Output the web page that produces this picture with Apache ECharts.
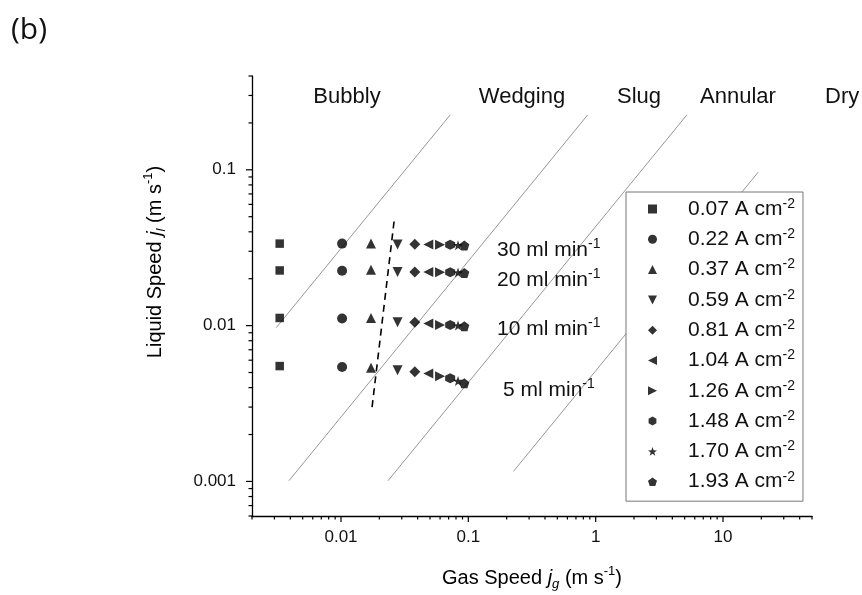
<!DOCTYPE html>
<html>
<head>
<meta charset="utf-8">
<script src="https://cdn.jsdelivr.net/npm/echarts@6/dist/echarts.min.js"></script>
<style>
html,body{margin:0;padding:0;background:#fff;}
#c{width:862px;height:595px;}
</style>
</head>
<body>
<div id="c"></div>
<script>
// ---------- data ----------
const currents = ['0.07', '0.22', '0.37', '0.59', '0.81', '1.04', '1.26', '1.48', '1.70', '1.93'];
const jg = [0.0033, 0.0102, 0.0172, 0.0278, 0.038, 0.0485, 0.060, 0.072, 0.083, 0.093];
const jl30 = [0.0336, 0.0336, 0.0337, 0.0332, 0.0333, 0.0332, 0.0331, 0.0330, 0.0328, 0.0327];
const jl20 = [0.0226, 0.0225, 0.0228, 0.0221, 0.0221, 0.0221, 0.0220, 0.0220, 0.0219, 0.0218];
const jl10 = [0.0112, 0.0111, 0.0112, 0.0105, 0.0105, 0.0103, 0.0101, 0.0101, 0.0100, 0.0099];
const jl5  = [0.00550, 0.00542, 0.00537, 0.00518, 0.00505, 0.00492, 0.00474, 0.00459, 0.00441, 0.00426];
// regime boundary lines (gray), endpoints [jg, jl]
const boundary1 = [[0.0031, 0.0097], [0.072, 0.225]];
const boundary2 = [[0.0039, 0.00101], [0.865, 0.225]];
const boundary3 = [[0.0234, 0.00101], [5.2, 0.225]];
const boundary4 = [[0.226, 0.00116], [18.9, 0.0966]];
// dashed transition line
const dashedLine = [[0.01754, 0.0030], [0.0261, 0.0466]];
// axis ranges & ticks
const xMin = 0.002, xMax = 50, yMin = 0.0006, yMax = 0.4;
const xMajor = [0.01, 0.1, 1, 10];
const xMinor = [0.002, 0.003, 0.004, 0.005, 0.006, 0.007, 0.008, 0.009,
  0.02, 0.03, 0.04, 0.05, 0.06, 0.07, 0.08, 0.09,
  0.2, 0.3, 0.4, 0.5, 0.6, 0.7, 0.8, 0.9,
  2, 3, 4, 5, 6, 7, 8, 9, 20, 30, 40, 50];
const yMajor = [0.001, 0.01, 0.1];
const yMinor = [0.0006, 0.0007, 0.0008, 0.0009,
  0.002, 0.003, 0.004, 0.005, 0.006, 0.007, 0.008, 0.009,
  0.02, 0.03, 0.04, 0.05, 0.06, 0.07, 0.08, 0.09,
  0.2, 0.3, 0.4];

const FONT = 'Liberation Sans';
const downTri = 'path://M0,10 L-10,-10 L10,-10 Z';
const leftTri = 'path://M-10,0 L10,-10 L10,10 Z';
const rightTri = 'path://M10,0 L-10,-10 L-10,10 Z';
const hexPath = 'path://M0,-10 L8.66,-5 L8.66,5 L0,10 L-8.66,5 L-8.66,-5 Z';
const starPath = 'path://M0,-10 L2.35,-3.24 L9.51,-3.09 L3.80,1.24 L5.88,8.09 L0,4 L-5.88,8.09 L-3.80,1.24 L-9.51,-3.09 L-2.35,-3.24 Z';
const pentPath = 'path://M0,-10 L9.51,-3.09 L5.88,8.09 L-5.88,8.09 L-9.51,-3.09 Z';
const symbols = [
  {s: 'rect', size: 8.5},
  {s: 'circle', size: 10},
  {s: 'triangle', size: 10},
  {s: downTri, size: 10},
  {s: 'diamond', size: 11},
  {s: leftTri, size: 10},
  {s: rightTri, size: 10},
  {s: hexPath, size: 10},
  {s: starPath, size: 10},
  {s: pentPath, size: 10}
];

const series = [];
const gray = {color: '#8a8a8a', width: 0.9};
[boundary1, boundary2, boundary3, boundary4].forEach(function (b) {
  series.push({type: 'line', data: b, symbol: 'none', lineStyle: gray, silent: true, z: 1});
});
series.push({type: 'line', data: dashedLine, symbol: 'none', silent: true, z: 1,
  lineStyle: {color: '#000', width: 1.6, type: [7, 5]}});

currents.forEach(function (c, i) {
  series.push({
    type: 'scatter', name: c,
    symbol: symbols[i].s, symbolSize: symbols[i].size,
    itemStyle: {color: '#000'},
    data: [[jg[i], jl30[i]], [jg[i], jl20[i]], [jg[i], jl10[i]], [jg[i], jl5[i]]],
    z: 3
  });
});

// tick marks drawn through the axes' own scales
const xTickData = xMajor.map(v => [v, yMin, 1]).concat(xMinor.map(v => [v, yMin, 0]));
const yTickData = yMajor.map(v => [xMin, v, 1]).concat(yMinor.map(v => [xMin, v, 0]));
series.push({
  type: 'custom', silent: true, clip: false, data: xTickData, z: 5,
  renderItem: function (params, api) {
    const p = api.coord([api.value(0), api.value(1)]);
    const len = api.value(2) ? 6 : 3.5;
    return {type: 'line', shape: {x1: p[0], y1: p[1], x2: p[0], y2: p[1] + len},
      style: {stroke: '#000', lineWidth: 1.2}};
  }
});
series.push({
  type: 'custom', silent: true, clip: false, data: yTickData, z: 5,
  renderItem: function (params, api) {
    const p = api.coord([api.value(0), api.value(1)]);
    const len = api.value(2) ? 6 : 3.5;
    return {type: 'line', shape: {x1: p[0], y1: p[1], x2: p[0] - len, y2: p[1]},
      style: {stroke: '#000', lineWidth: 1.2}};
  }
});

function isPow10(v) {
  const l = Math.log10(v);
  return Math.abs(l - Math.round(l)) < 1e-6;
}

const chart = echarts.init(document.getElementById('c'), null, {renderer: 'canvas'});
const supRich = {
  n: {fontFamily: FONT, fontSize: 21, color: '#111', lineHeight: 24},
  s: {fontFamily: FONT, fontSize: 14, color: '#111', lineHeight: 14, verticalAlign: 'top'}
};
const titleRich = {
  n: {fontFamily: FONT, fontSize: 20, color: '#111', lineHeight: 26},
  i: {fontFamily: FONT, fontSize: 20, color: '#111', lineHeight: 26, fontStyle: 'italic'},
  b: {fontFamily: FONT, fontSize: 13, color: '#111', lineHeight: 14, fontStyle: 'italic', verticalAlign: 'bottom'},
  s: {fontFamily: FONT, fontSize: 13, color: '#111', lineHeight: 14, verticalAlign: 'top'}
};
const annRich = {
  n: {fontFamily: FONT, fontSize: 21, color: '#111', lineHeight: 26},
  s: {fontFamily: FONT, fontSize: 14, color: '#111', lineHeight: 15, verticalAlign: 'top'}
};

function txt(x, y, text, align, size) {
  return {type: 'text', x: x, y: y, silent: true, z: 10,
    style: {text: text, align: align || 'center', verticalAlign: 'middle',
      fontFamily: FONT, fontSize: size || 22, fill: '#111'}};
}
function richTxt(x, y, text, rich) {
  return {type: 'text', x: x, y: y, silent: true, z: 10,
    style: {text: text, align: 'left', verticalAlign: 'middle', rich: rich, fill: '#111'}};
}

const option = {
  animation: false,
  backgroundColor: '#fff',
  grid: {left: 252, top: 76, right: 50, bottom: 79, containLabel: false},
  xAxis: {
    type: 'log', logBase: 10, min: xMin, max: xMax,
    axisLine: {lineStyle: {color: '#000', width: 1.3}},
    axisTick: {show: false},
    splitLine: {show: false},
    axisLabel: {fontFamily: FONT, fontSize: 17, color: '#111', margin: 13,
      showMinLabel: false, showMaxLabel: false,
      formatter: function (v) { return isPow10(v) ? String(+v.toPrecision(6)) : ''; }}
  },
  yAxis: {
    type: 'log', logBase: 10, min: yMin, max: yMax,
    axisLine: {lineStyle: {color: '#000', width: 1.3}},
    axisTick: {show: false},
    splitLine: {show: false},
    axisLabel: {fontFamily: FONT, fontSize: 17, color: '#111', margin: 16,
      showMinLabel: false, showMaxLabel: false,
      formatter: function (v) { return isPow10(v) ? String(+v.toPrecision(6)) : ''; }}
  },
  legend: {
    orient: 'vertical', left: 626, top: 192,
    data: currents,
    itemWidth: 9, itemHeight: 9, itemGap: 7.8,
    padding: [5, 8, 9, 22],
    backgroundColor: '#fff', borderColor: '#777', borderWidth: 1, borderRadius: 0,
    selectedMode: false,
    formatter: function (name) { return '{n|' + name + ' A cm}{s|-2}'; },
    textStyle: {fontFamily: FONT, fontSize: 21, color: '#111', padding: [0, 0, 0, 26], rich: supRich}
  },
  series: series,
  graphic: [
    {type: 'text', x: 11, y: 30, silent: true,
      style: {text: '(b)', align: 'left', verticalAlign: 'middle', fontFamily: 'Open Sans', fontSize: 30, fill: '#111'}},
    txt(347, 97, 'Bubbly'),
    txt(522, 97, 'Wedging'),
    txt(639, 97, 'Slug'),
    txt(738, 97, 'Annular'),
    txt(825, 97, 'Dry', 'left'),
    richTxt(497, 250, '{n|30 ml min}{s|-1}', annRich),
    richTxt(497, 280, '{n|20 ml min}{s|-1}', annRich),
    richTxt(497, 329, '{n|10 ml min}{s|-1}', annRich),
    richTxt(503, 390, '{n|5 ml min}{s|-1}', annRich),
    {type: 'text', x: 532, y: 578, silent: true, z: 10,
      style: {text: '{n|Gas Speed }{i|j}{b|g}{n| (m s}{s|-1}{n|)}', align: 'center', verticalAlign: 'middle', rich: titleRich}},
    {type: 'text', x: 155, y: 262, rotation: Math.PI / 2, silent: true, z: 10,
      style: {text: '{n|Liquid Speed }{i|j}{b|l}{n| (m s}{s|-1}{n|)}', align: 'center', verticalAlign: 'middle', rich: titleRich}}
  ]
};
chart.setOption(option);
</script>
</body>
</html>
